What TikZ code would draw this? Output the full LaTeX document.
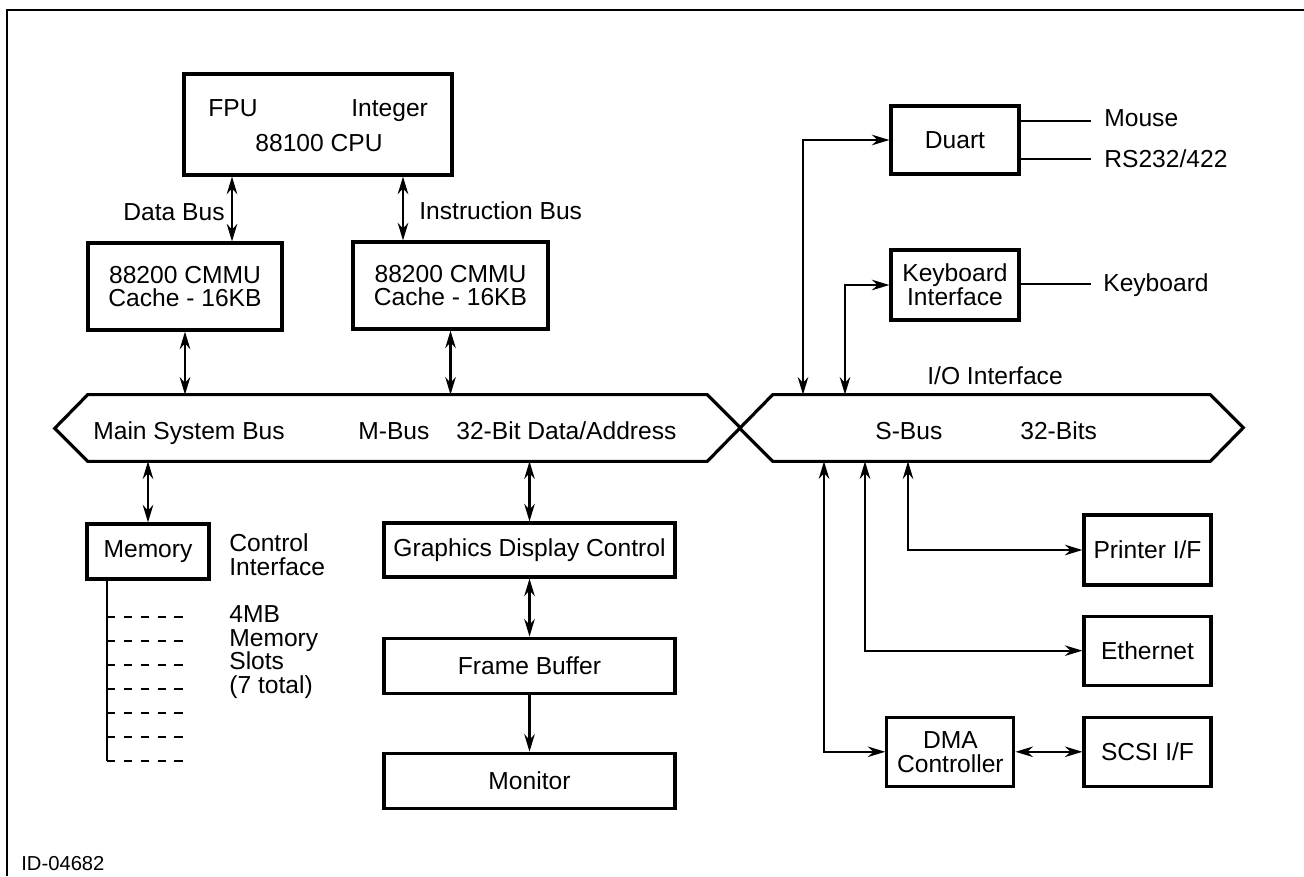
\documentclass[tikz,border=0pt]{standalone}
\usepackage{fontspec}
\setmainfont{Liberation Sans}
\usetikzlibrary{arrows.meta, positioning}
\newcommand{\diafont}{\fontsize{14}{13.5}\selectfont}

\begin{document}
\begin{tikzpicture}[
    x=0.02cm, y=-0.02cm,
    font=\diafont,
    node distance=1.16cm and 1.34cm,
    box/.style={rectangle, draw, line width=1.8pt, inner sep=0pt, align=center},
    busbody/.style={rectangle, inner sep=0pt, minimum height=1.32cm},
    bus/.style={line width=1.8pt, line join=miter},
    lbl/.style={inner sep=0pt, align=left},
    arrow/.style={-{Stealth[length=10pt, width=6pt]}, line width=1.2pt},
    dblarrow/.style={{Stealth[length=10pt, width=6pt]}-{Stealth[length=10pt, width=6pt]}, line width=1.2pt},
    wire/.style={line width=1.2pt},
    slotline/.style={line width=1.2pt, dash pattern=on 4.7pt off 4.9pt}
]
\useasboundingbox (0,0) rectangle (1304,876);
\draw[line width=1.4pt] (7,876) -- (7,10) -- (1304,10);

% CPU and caches
\node[box, minimum width=5.36cm, minimum height=2.02cm] (cpu) at (318,124.5) {};
\node[lbl, anchor=base west] (fpu) at (208,116) {FPU};
\node[lbl, anchor=base west] (integer) at (351,116) {Integer};
\node[lbl, anchor=base] (cpuname) at (319,151) {88100 CPU};
\node[box, minimum width=3.88cm, minimum height=1.74cm] (cmmuL) at (185,286.5) {88200 CMMU\\Cache - 16KB};
\node[box, minimum width=3.9cm, minimum height=1.74cm] (cmmuR) at (450.5,285.5) {88200 CMMU\\Cache - 16KB};
\coordinate (dbus) at (232,0);
\coordinate (ibus) at (403,0);
\draw[dblarrow] (cpu.south -| dbus) -- (cmmuL.north -| dbus);
\draw[dblarrow] (cpu.south -| ibus) -- (cmmuR.north -| ibus);
\node[lbl, anchor=base east] (dbuslbl) at (225,220) {Data Bus};
\node[lbl, anchor=base west] (ibuslbl) at (419,219) {Instruction Bus};

% M-Bus
\node[busbody, minimum width=12.38cm] (mbus) at (397.5,428) {};
\draw[bus] (mbus.north west) -- (mbus.north east) -- ++(33,33) -- (mbus.south east)
    -- (mbus.south west) -- ++(-33,-33) -- cycle;
\node[lbl, anchor=base west] (mbusname) at (93,439) {Main System Bus};
\node[lbl, anchor=base west] (mbustag) at (358,439) {M-Bus};
\node[lbl, anchor=base west] (mbuswidth) at (456,439) {32-Bit Data/Address};
\draw[dblarrow] (cmmuL.south) -- (cmmuL.south |- mbus.north);
\draw[dblarrow] (cmmuR.south) -- (cmmuR.south |- mbus.north);

% memory
\node[box, minimum width=2.44cm, minimum height=1.1cm] (mem) at (148,551.5) {Memory};
\node[lbl, anchor=west] (memctrl) at (229,554.5) {Control\\Interface};
\node[lbl, anchor=west] (memslots) at (229,652) {4MB\\Memory\\Slots\\(7 total)};
\draw[dblarrow] (mbus.south -| mem.north) -- (mem.north);
\coordinate (slotend) at (107,761);
\draw[wire] (mem.south -| slotend) -- (slotend);
\foreach \sy in {617,641,...,761}
    \draw[slotline] (107,\sy) -- ++(78,0);

% graphics
\node[box, minimum width=5.82cm, minimum height=1.08cm] (gdc) at (529.5,550) {Graphics Display Control};
\node[box, minimum width=5.82cm, minimum height=1.1cm, below=of gdc] (fbuf) {Frame Buffer};
\node[box, minimum width=5.82cm, minimum height=1.1cm, below=1.14cm of fbuf] (monitor) {Monitor};
\draw[dblarrow] (mbus.south -| gdc.north) -- (gdc.north);
\draw[dblarrow] (gdc) -- (fbuf);
\draw[arrow] (fbuf) -- (monitor);

% S-Bus
\node[busbody, minimum width=8.74cm] (sbus) at (991.5,428) {};
\draw[bus] (sbus.north west) -- (sbus.north east) -- ++(33,33) -- (sbus.south east)
    -- (sbus.south west) -- ++(-33,-33) -- cycle;
\node[lbl, anchor=base west] (sbustag) at (875,439) {S-Bus};
\node[lbl, anchor=base west] (sbuswidth) at (1020,439) {32-Bits};
\node[lbl, anchor=base west] (iolbl) at (927,384) {I/O Interface};

% serial and keyboard
\node[box, minimum width=2.56cm, minimum height=1.36cm] (duart) at (955,140) {Duart};
\node[box, minimum width=2.56cm, minimum height=1.4cm] (kbd) at (955,285) {Keyboard\\Interface};
\coordinate (mouseend) at (1091,121);
\coordinate (rs232end) at (1091,159);
\coordinate (kbdend) at (1091,284);
\node[lbl, anchor=base west] (mouse) at (1104,126) {Mouse};
\node[lbl, anchor=base west] (rs232) at (1104,167) {RS232/422};
\node[lbl, anchor=base west] (keyboard) at (1103,291) {Keyboard};
\draw[wire] (duart.east |- mouseend) -- (mouseend);
\draw[wire] (duart.east |- rs232end) -- (rs232end);
\draw[wire] (kbd.east |- kbdend) -- (kbdend);
\coordinate (tapduart) at (803,0);
\coordinate (tapkbd) at (845,0);
\draw[dblarrow] (sbus.north -| tapduart) |- (duart.west);
\draw[dblarrow] (sbus.north -| tapkbd) |- (kbd.west);

% peripherals
\node[box, minimum width=2.54cm, minimum height=1.4cm] (printer) at (1147.5,550) {Printer I/F};
\node[box, minimum width=2.54cm, minimum height=1.38cm, below=0.56cm of printer] (ether) {Ethernet};
\node[box, minimum width=2.54cm, minimum height=1.38cm, below=0.58cm of ether] (scsi) {SCSI I/F};
\node[box, minimum width=2.54cm, minimum height=1.38cm, left=of scsi] (dma) {DMA\\Controller};
\coordinate (tapdma) at (824,0);
\coordinate (tapeth) at (865,0);
\coordinate (tapprn) at (908,0);
\draw[dblarrow] (sbus.south -| tapprn) |- (printer.west);
\draw[dblarrow] (sbus.south -| tapeth) |- (ether.west);
\draw[dblarrow] (sbus.south -| tapdma) |- (dma.west);
\draw[dblarrow] (dma) -- (scsi);

\node[lbl, anchor=base west, font=\fontsize{11.5}{13}\selectfont] (figid) at (21,870) {ID-04682};
\end{tikzpicture}
\end{document}
